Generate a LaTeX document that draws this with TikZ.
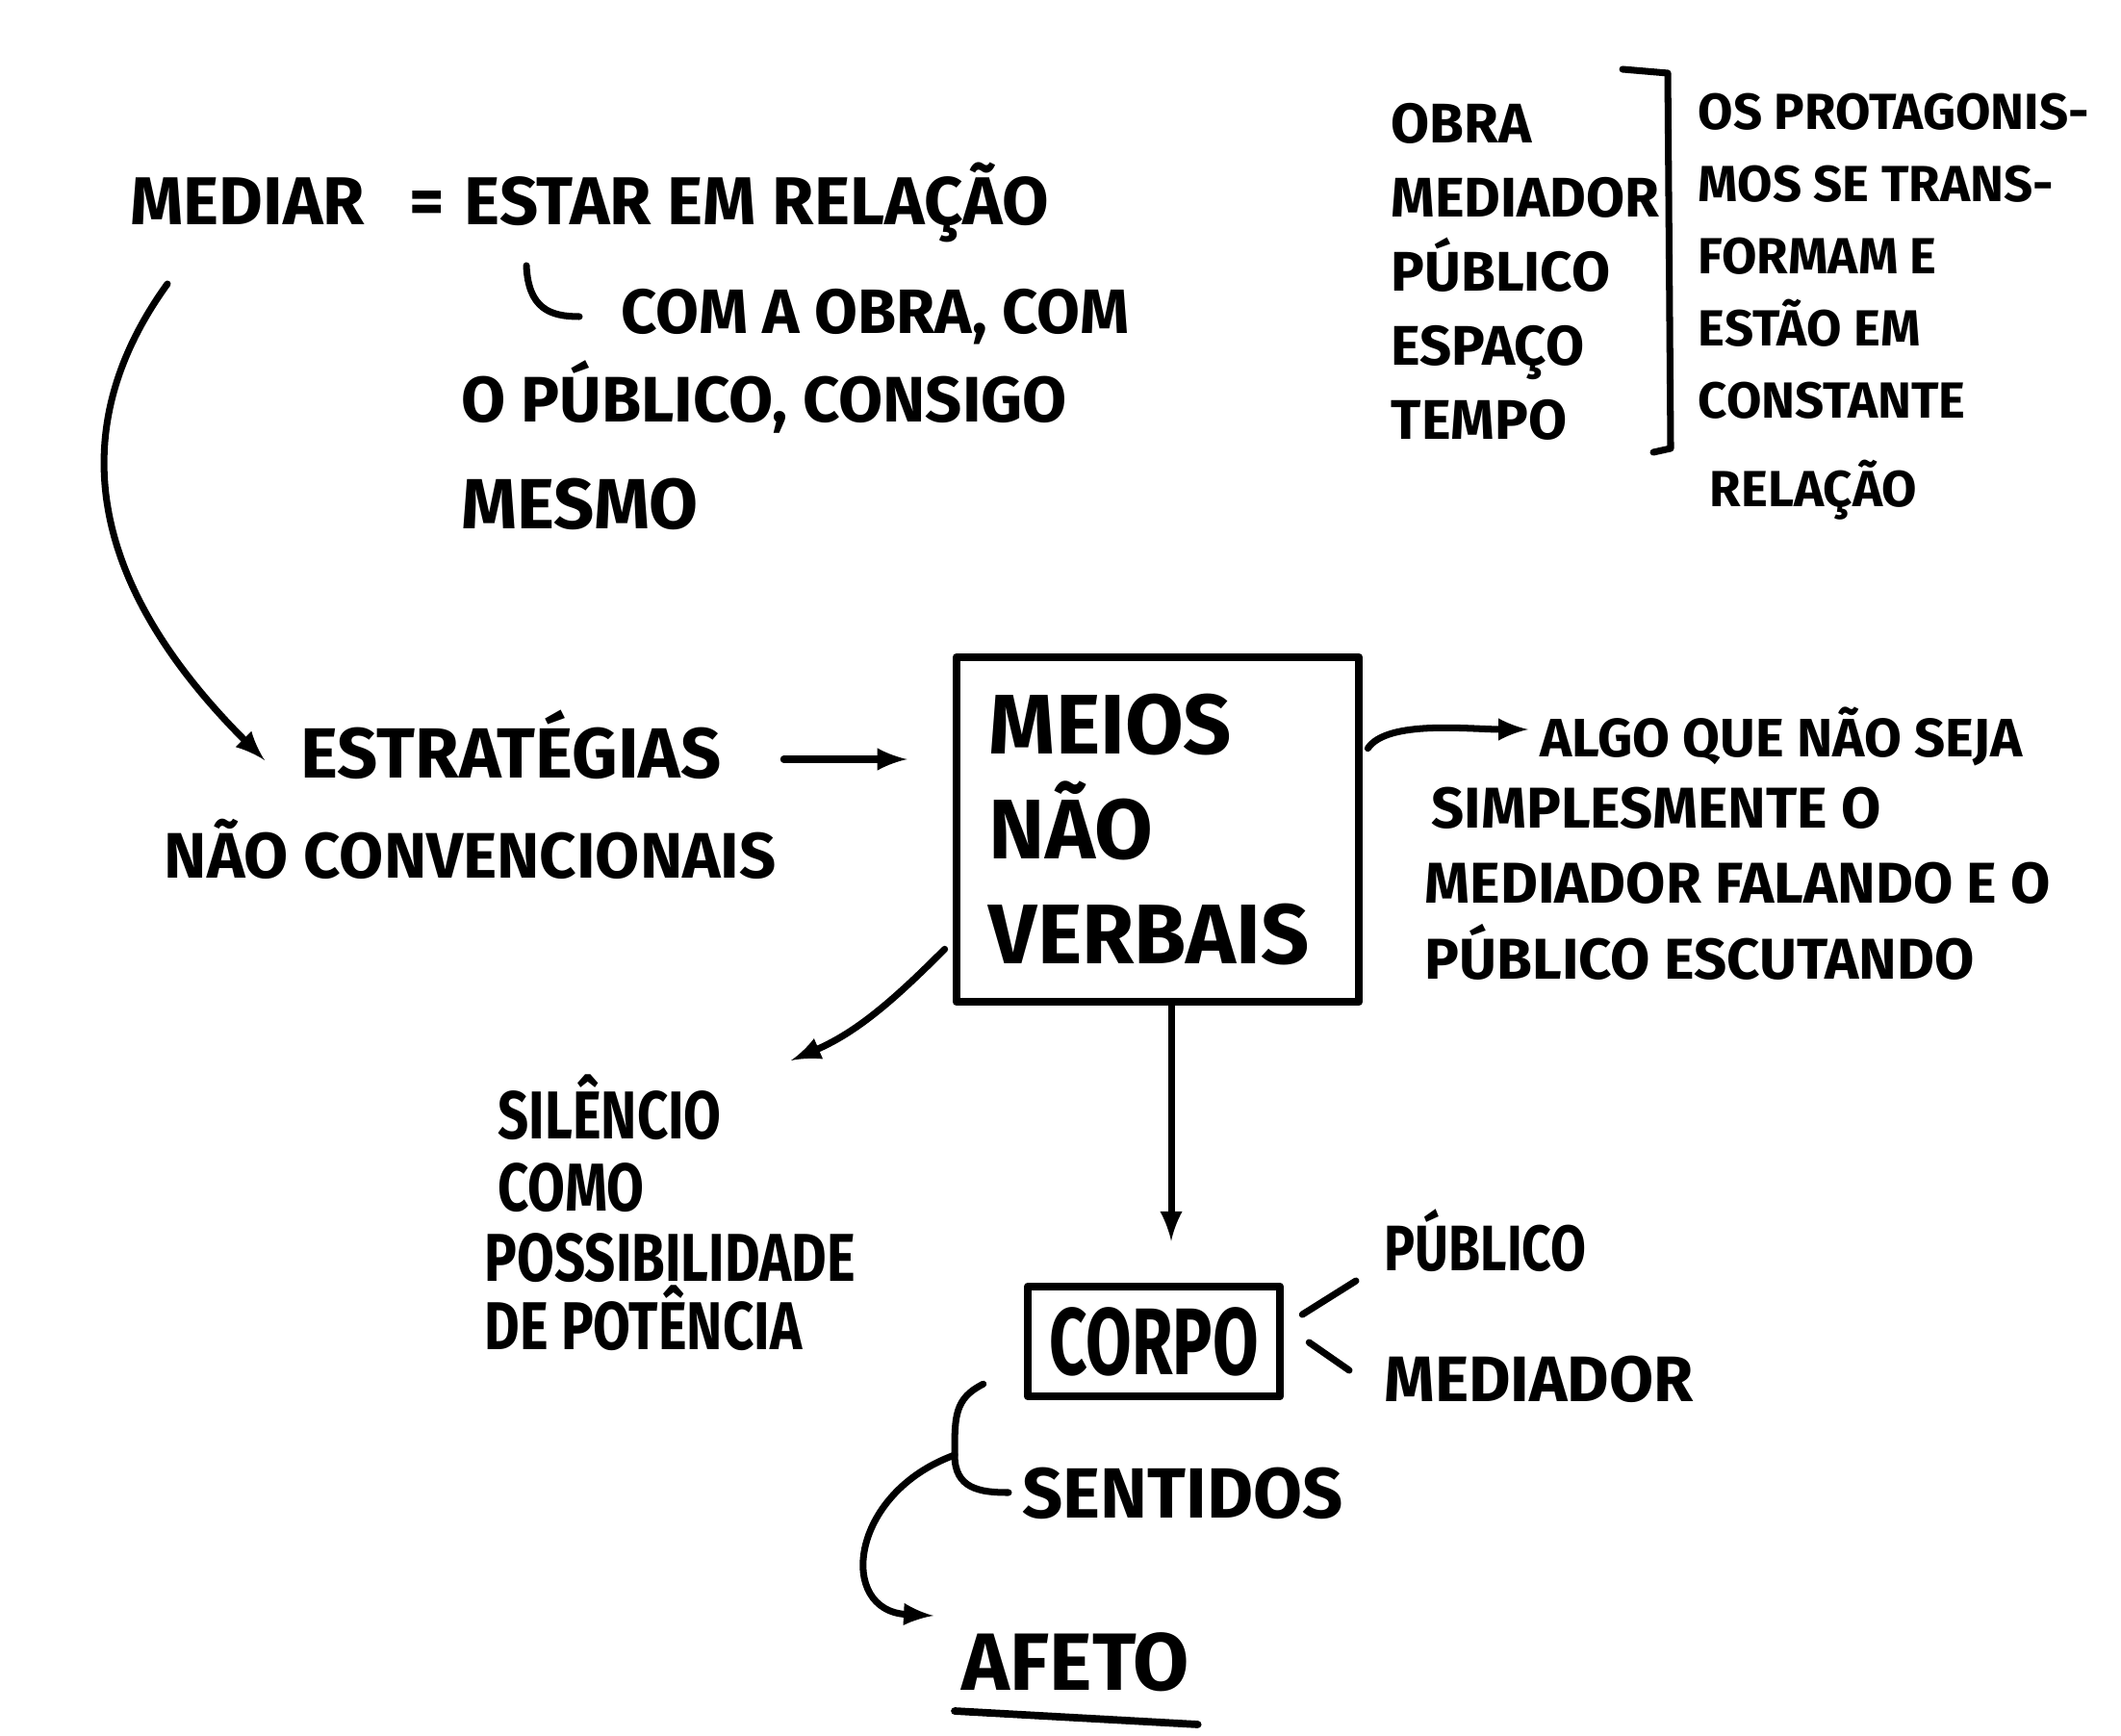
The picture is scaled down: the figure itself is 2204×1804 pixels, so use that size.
\documentclass[tikz,border=0pt]{standalone}
\usepackage{fontspec}
\usepackage{tikz}
\usetikzlibrary{arrows}
\usetikzlibrary{calc}
\usetikzlibrary{positioning}
\newfontfamily\hand{Fira Sans}
\newfontfamily\handn{Fira Sans}[FakeStretch=0.8]
\newfontfamily\handt{Fira Sans}[FakeStretch=0.7]

\begin{document}
\begin{tikzpicture}[x=0.01cm, y=-0.01cm, >=latex, line cap=round, line join=round,
  hand/.style={anchor=base west, inner sep=0pt, font=\hand\bfseries\fontsize{#1}{#1}\selectfont},
  hand/.default=20,
  handn/.style={anchor=base west, inner sep=0pt, font=\handn\bfseries\fontsize{#1}{#1}\selectfont},
  handn/.default=20,
  link/.style={line width=2pt},
  framebox/.style={draw, line width=2.4pt, inner sep=0pt}]
  \useasboundingbox (0,0) rectangle (2204,1804);

  % mediar
  \node[hand] (mediar) at (135,234) {MEDIAR};
  \node[hand] (eq) at (425,234) {=};
  \node[hand] (estar) at (482,234) {ESTAR EM RELAÇÃO};
  \node[hand=18.5] (comobra) at (645,347) {COM A OBRA, COM};
  \node[hand=19] (opublico) at (479,439) {O PÚBLICO, CONSIGO};
  \node[hand=21] (mesmo) at (479,550) {MESMO};
  \draw[link] ($(estar.base west)+(65,42)$) .. controls +(2,45) and +(-30,0) .. ($(comobra.base west)+(-43,-18)$);

  % protagonistas
  \foreach \w [count=\i] in {OBRA, MEDIADOR, PÚBLICO, ESPAÇO, TEMPO}
    \node[hand=16.5] (item\i) at (1445, 72+77*\i) {\w};
  \draw[link] (1686,72) -- (1733,76) -- (1736,466) -- (1718,470);
  \foreach \w [count=\i] in {OS PROTAGONIS-, MOS SE TRANS-, FORMAM E, ESTÃO EM, CONSTANTE}
    \node[hand=15] (desc\i) at (1764, 60+75*\i) {\w};
  \node[hand=15] (desc6) at (1776,527) {RELAÇÃO};

  % estrategias
  \node[hand=21] (estrat) at (312,808) {ESTRATÉGIAS};
  \node[hand=19] (naoconv) at (170,912) {NÃO CONVENCIONAIS};
  \draw[link,->] ($(mediar.base west)+(39,61)$) .. controls +(-130,180) and +(-150,-150) .. ($(estrat.base west)+(-37,-18)$);

  % meios nao verbais
  \node[framebox, minimum width=4.18cm, minimum height=3.58cm, text width=3.5cm, align=left,
    font=\hand\bfseries\fontsize{25}{31}\selectfont] (meios) at (1203,862) {MEIOS\\NÃO\\VERBAIS};
  \draw[link,->] ($(estrat.base east)+(64,-19)$) -- ($(estrat.base east -| meios.west)+(-47,-19)$);

  \node[hand=16] (algo) at (1600,786) {ALGO QUE NÃO SEJA};
  \node[hand=17] (simples) at (1487,860) {SIMPLESMENTE O};
  \node[hand=17] (falando) at (1480,938) {MEDIADOR FALANDO E O};
  \node[hand=17] (escutando) at (1480,1017) {PÚBLICO ESCUTANDO};
  \draw[link,->] ($(meios.north east)+(5,99)$) .. controls +(20,-30) and +(-60,0) .. ($(algo.base west)+(-12,-28)$);

  \node[handn] (silencio) at (517,1183) {SILÊNCIO};
  \node[handn] (como) at (517,1258) {COMO};
  \node[handn] (possib) at (503,1331) {POSSIBILIDADE};
  \node[handn] (potencia) at (503,1402) {DE POTÊNCIA};
  \draw[link,->] ($(meios.south west)+(-8,-59)$) .. controls +(-50,50) and +(70,-30) .. ($(silencio.base west)+(305,-81)$);

  % corpo
  \node[framebox, minimum width=2.62cm, minimum height=1.14cm,
    font=\handt\bfseries\fontsize{28}{28}\selectfont] (corpo) at (1199,1394) {CORPO};
  \draw[link,->,shorten >=0.43cm] ($(meios.south)+(14,0)$) -- ($(meios.south |- corpo.north)+(14,0)$);
  \node[handn=19] (publico) at (1438,1320) {PÚBLICO};
  \node[hand=19] (mediador) at (1438,1456) {MEDIADOR};
  \draw[link] ($(corpo.east)+(19,-28)$) -- ($(publico.base west)+(-29,11)$);
  \draw[link] ($(corpo.east)+(26,1)$) -- ($(mediador.base west)+(-36,-32)$);

  \node[hand=21] (sentidos) at (1062,1577) {SENTIDOS};
  \coordinate (bend) at (992,1512);
  \draw[link] ($(corpo.south west)+(-42,-17)$) .. controls +(-30,15) and +(0,-40) .. (bend)
    .. controls +(0,35) and +(-30,0) .. ($(sentidos.base west)+(-14,-26)$);

  \node[hand=24] (afeto) at (999,1756) {AFETO};
  \draw[link,->] (bend) .. controls +(-110,40) and +(-100,-5) .. ($(afeto.base west)+(-29,-77)$);
  \draw[line width=2.2pt] ($(afeto.base west)+(-7,22)$) -- ($(afeto.base east)+(8,36)$);
\end{tikzpicture}
\end{document}
